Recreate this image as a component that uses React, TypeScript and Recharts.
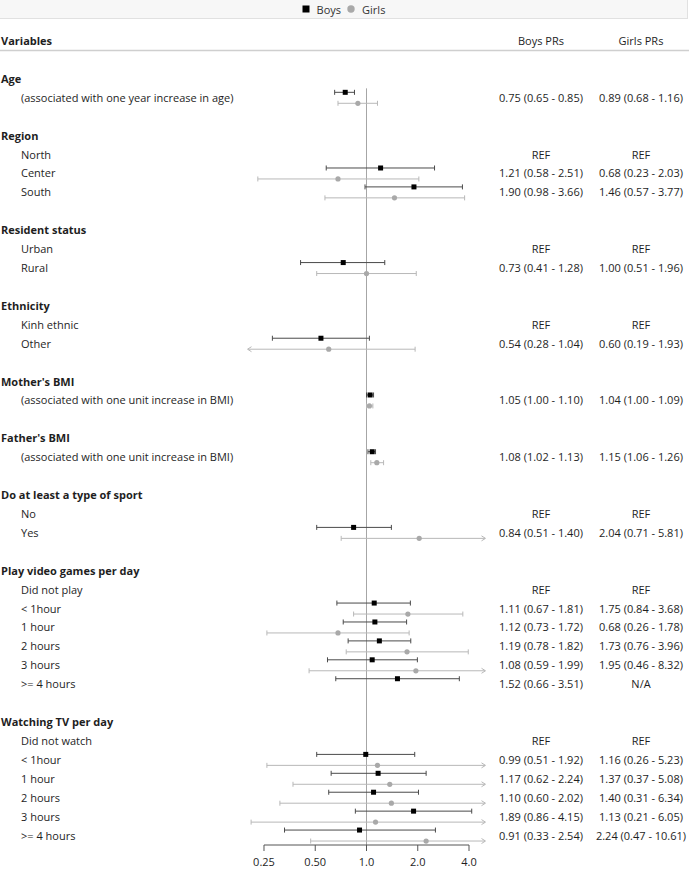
import React from 'react';
import { ComposedChart, Scatter, XAxis, YAxis, ReferenceLine, Legend } from 'recharts';

const FONT = '"Open Sans", "Noto Sans", sans-serif';
const TEXT = '#1e1e1e';

// ---- data ----
const rowLabels: string[] = [
  'Age', '(associated with one year increase in age)', '',
  'Region', 'North', 'Center', 'South', '',
  'Resident status', 'Urban', 'Rural', '',
  'Ethnicity', 'Kinh ethnic', 'Other', '',
  "Mother's BMI", '(associated with one unit increase in BMI)', '',
  "Father's BMI", '(associated with one unit increase in BMI)', '',
  'Do at least a type of sport', 'No', 'Yes', '',
  'Play video games per day', 'Did not play', '< 1hour', '1 hour', '2 hours', '3 hours', '>= 4 hours', '',
  'Watching TV per day', 'Did not watch', '< 1hour', '1 hour', '2 hours', '3 hours', '>= 4 hours',
];
const headerRows: number[] = [0, 3, 8, 12, 16, 19, 22, 26, 34];
const referenceRows: number[] = [4, 9, 13, 23, 27, 35];
const girlsNotAvailable: number[] = [32];

const N = null;
const boysPR: (number | null)[] = [N, 0.75, N, N, N, 1.21, 1.90, N, N, N, 0.73, N, N, N, 0.54, N, N, 1.05, N, N, 1.08, N, N, N, 0.84, N, N, N, 1.11, 1.12, 1.19, 1.08, 1.52, N, N, N, 0.99, 1.17, 1.10, 1.89, 0.91];
const boysLower: (number | null)[] = [N, 0.65, N, N, N, 0.58, 0.98, N, N, N, 0.41, N, N, N, 0.28, N, N, 1.00, N, N, 1.02, N, N, N, 0.51, N, N, N, 0.67, 0.73, 0.78, 0.59, 0.66, N, N, N, 0.51, 0.62, 0.60, 0.86, 0.33];
const boysUpper: (number | null)[] = [N, 0.85, N, N, N, 2.51, 3.66, N, N, N, 1.28, N, N, N, 1.04, N, N, 1.10, N, N, 1.13, N, N, N, 1.40, N, N, N, 1.81, 1.72, 1.82, 1.99, 3.51, N, N, N, 1.92, 2.24, 2.02, 4.15, 2.54];
const girlsPR: (number | null)[] = [N, 0.89, N, N, N, 0.68, 1.46, N, N, N, 1.00, N, N, N, 0.60, N, N, 1.04, N, N, 1.15, N, N, N, 2.04, N, N, N, 1.75, 0.68, 1.73, 1.95, N, N, N, N, 1.16, 1.37, 1.40, 1.13, 2.24];
const girlsLower: (number | null)[] = [N, 0.68, N, N, N, 0.23, 0.57, N, N, N, 0.51, N, N, N, 0.19, N, N, 1.00, N, N, 1.06, N, N, N, 0.71, N, N, N, 0.84, 0.26, 0.76, 0.46, N, N, N, N, 0.26, 0.37, 0.31, 0.21, 0.47];
const girlsUpper: (number | null)[] = [N, 1.16, N, N, N, 2.03, 3.77, N, N, N, 1.96, N, N, N, 1.93, N, N, 1.09, N, N, 1.26, N, N, N, 5.81, N, N, N, 3.68, 1.78, 3.96, 8.32, N, N, N, N, 5.23, 5.08, 6.34, 6.05, 10.61];

const xTicks: number[] = [0.25, 0.5, 1, 2, 4];
const xTickLabels: string[] = ['0.25', '0.50', '1.0', '2.0', '4.0'];
const X_MIN = 0.2;
const X_MAX = 5;
const Y_MIN = -2.5;
const Y_MAX = 40.5;
const HEADER_ROW = -2;

const BOYS_LINE = '#4a4a4a';
const GIRLS_LINE = '#b8b8b8';
const GIRLS_DOT = '#a9a9a9';

// ---- derived ----
type Pt = { x: number; y: number; dir?: number };
function buildSeries(est: (number | null)[], lo: (number | null)[], hi: (number | null)[], offset: number) {
  const points: Pt[] = [];
  const caps: Pt[] = [];
  const arrows: Pt[] = [];
  const segs: { y: number; lo: number; hi: number }[] = [];
  est.forEach((e, i) => {
    if (e == null) return;
    const l = lo[i] as number;
    const h = hi[i] as number;
    const y = i + offset;
    points.push({ x: e, y });
    segs.push({ y, lo: Math.max(l, X_MIN), hi: Math.min(h, X_MAX) });
    if (l < X_MIN) arrows.push({ x: X_MIN, y, dir: -1 });
    else caps.push({ x: l, y });
    if (h > X_MAX) arrows.push({ x: X_MAX, y, dir: 1 });
    else caps.push({ x: h, y });
  });
  return { points, caps, arrows, segs };
}
const boys = buildSeries(boysPR, boysLower, boysUpper, -0.29);
const girls = buildSeries(girlsPR, girlsLower, girlsUpper, 0.29);
const rowTicks: number[] = [HEADER_ROW, ...rowLabels.map((_, i) => i)];

const fmt = (v: number) => v.toFixed(2);
function prText(est: (number | null)[], lo: (number | null)[], hi: (number | null)[], i: number, na: number[]) {
  if (referenceRows.includes(i)) return 'REF';
  if (na.includes(i)) return 'N/A';
  const e = est[i];
  if (e == null) return '';
  return `${fmt(e)} (${fmt(lo[i] as number)} - ${fmt(hi[i] as number)})`;
}

// ---- shapes ----
const Square = (p: any) => <rect x={p.cx - 2.5} y={p.cy - 2.5} width={5} height={5} fill="#000" />;
const Dot = (p: any) => <circle cx={p.cx} cy={p.cy} r={2.6} fill={GIRLS_DOT} />;
const makeCap = (color: string) => (p: any) => (
  <line x1={p.cx} x2={p.cx} y1={p.cy - 2.5} y2={p.cy + 2.5} stroke={color} strokeWidth={1} />
);
const makeArrow = (color: string) => (p: any) => {
  const d = p.payload.dir;
  return (
    <polyline
      points={`${p.cx - d * 4},${p.cy - 2.5} ${p.cx},${p.cy} ${p.cx - d * 4},${p.cy + 2.5}`}
      fill="none"
      stroke={color}
      strokeWidth={1}
    />
  );
};

// ---- ticks ----
const LeftTick = (props: any) => {
  const { y, payload } = props;
  const r = payload.value;
  if (r === HEADER_ROW) {
    return (
      <g>
        <text x={1} y={y} dy="0.36em" fontFamily={FONT} fontSize={11} fontWeight={700} fill={TEXT}>
          Variables
        </text>
        <line x1={0} x2={689} y1={y + 9.5} y2={y + 9.5} stroke="#cfcfcf" strokeWidth={1.5} />
      </g>
    );
  }
  const label = rowLabels[r];
  if (!label) return <g />;
  const isHeader = headerRows.includes(r);
  return (
    <text
      x={isHeader ? 1 : 21}
      y={y}
      dy="0.36em"
      fontFamily={FONT}
      fontSize={11}
      fontWeight={isHeader ? 700 : 400}
      fill={TEXT}
    >
      {label}
    </text>
  );
};

const RightTick = (props: any) => {
  const { y, payload } = props;
  const r = payload.value;
  let b = '';
  let g = '';
  if (r === HEADER_ROW) {
    b = 'Boys PRs';
    g = 'Girls PRs';
  } else {
    b = prText(boysPR, boysLower, boysUpper, r, []);
    g = prText(girlsPR, girlsLower, girlsUpper, r, girlsNotAvailable);
  }
  return (
    <g>
      <text x={541} y={y} dy="0.36em" textAnchor="middle" fontFamily={FONT} fontSize={11} fill={TEXT}>
        {b}
      </text>
      <text x={641} y={y} dy="0.36em" textAnchor="middle" fontFamily={FONT} fontSize={11} fill={TEXT}>
        {g}
      </text>
    </g>
  );
};

const renderLegend = (props: any) => {
  const items = (props.payload || []).filter((p: any) => p.type !== 'none');
  return (
    <div
      style={{
        boxSizing: 'border-box',
        height: 19,
        width: 688,
        background: '#f7f7f7',
        border: '1px solid #e1e1e1',
        borderTop: 'none',
        borderLeft: 'none',
        display: 'flex',
        justifyContent: 'center',
        alignItems: 'center',
        fontFamily: FONT,
        fontSize: 11,
        color: '#333',
      }}
    >
      {items.map((it: any, k: number) => (
        <span key={k} style={{ display: 'inline-flex', alignItems: 'center', marginLeft: k ? 6 : 0 }}>
          <svg width={8} height={8} style={{ marginRight: 7 }}>
            {it.type === 'square' ? (
              <rect x={0.5} y={0.5} width={7} height={7} fill="#000" />
            ) : (
              <circle cx={4} cy={4} r={3.7} fill={GIRLS_DOT} />
            )}
          </svg>
          {it.value}
        </span>
      ))}
    </div>
  );
};

export default function App() {
  return (
    <div style={{ position: 'absolute', left: 0, top: 0, width: 689, height: 870, background: '#fff' }}>
      <ComposedChart
        width={689}
        height={870}
        margin={{ top: 12.6, right: 0, bottom: 0, left: 0 }}
        style={{ fontFamily: FONT }}
      >
        <XAxis
          type="number"
          dataKey="x"
          scale="log"
          domain={[X_MIN, X_MAX]}
          allowDataOverflow
          ticks={xTicks}
          interval={0}
          tickFormatter={(v: number) => xTickLabels[xTicks.indexOf(v)] ?? String(v)}
          axisLine={false}
          tickLine={{ stroke: '#555' }}
          tickSize={6}
          tickMargin={7}
          height={25}
          tick={{ fontSize: 11, fill: TEXT, fontFamily: FONT }}
        />
        <YAxis
          type="number"
          dataKey="y"
          domain={[Y_MIN, Y_MAX]}
          reversed
          allowDataOverflow
          ticks={rowTicks}
          interval={0}
          width={247.5}
          axisLine={false}
          tickLine={false}
          tick={<LeftTick />}
        />
        <YAxis
          yAxisId="r"
          orientation="right"
          type="number"
          dataKey="y"
          domain={[Y_MIN, Y_MAX]}
          reversed
          allowDataOverflow
          ticks={rowTicks}
          interval={0}
          width={203.5}
          axisLine={false}
          tickLine={false}
          tick={<RightTick />}
        />
        <Legend verticalAlign="top" align="center" content={renderLegend} wrapperStyle={{ top: 0, left: 0, width: 689, margin: 0 }} />
        <ReferenceLine segment={[{ x: 1, y: 0.5 }, { x: 1, y: Y_MAX }]} stroke="#a6a6a6" strokeWidth={1} ifOverflow="visible" />
        <ReferenceLine segment={[{ x: xTicks[0], y: Y_MAX }, { x: xTicks[xTicks.length - 1], y: Y_MAX }]} stroke="#555" strokeWidth={1} ifOverflow="visible" />
        {boys.segs.map((s, k) => (
          <ReferenceLine key={`b${k}`} segment={[{ x: s.lo, y: s.y }, { x: s.hi, y: s.y }]} stroke={BOYS_LINE} strokeWidth={1} ifOverflow="visible" />
        ))}
        {girls.segs.map((s, k) => (
          <ReferenceLine key={`g${k}`} segment={[{ x: s.lo, y: s.y }, { x: s.hi, y: s.y }]} stroke={GIRLS_LINE} strokeWidth={1} ifOverflow="visible" />
        ))}
        <Scatter data={boys.caps} shape={makeCap(BOYS_LINE)} legendType="none" isAnimationActive={false} />
        <Scatter data={girls.caps} shape={makeCap(GIRLS_LINE)} legendType="none" isAnimationActive={false} />
        <Scatter data={boys.arrows} shape={makeArrow(BOYS_LINE)} legendType="none" isAnimationActive={false} />
        <Scatter data={girls.arrows} shape={makeArrow(GIRLS_LINE)} legendType="none" isAnimationActive={false} />
        <Scatter name="Boys" data={boys.points} shape={Square} fill="#000" legendType="square" isAnimationActive={false} />
        <Scatter name="Girls" data={girls.points} shape={Dot} fill={GIRLS_DOT} legendType="circle" isAnimationActive={false} />
      </ComposedChart>
    </div>
  );
}
